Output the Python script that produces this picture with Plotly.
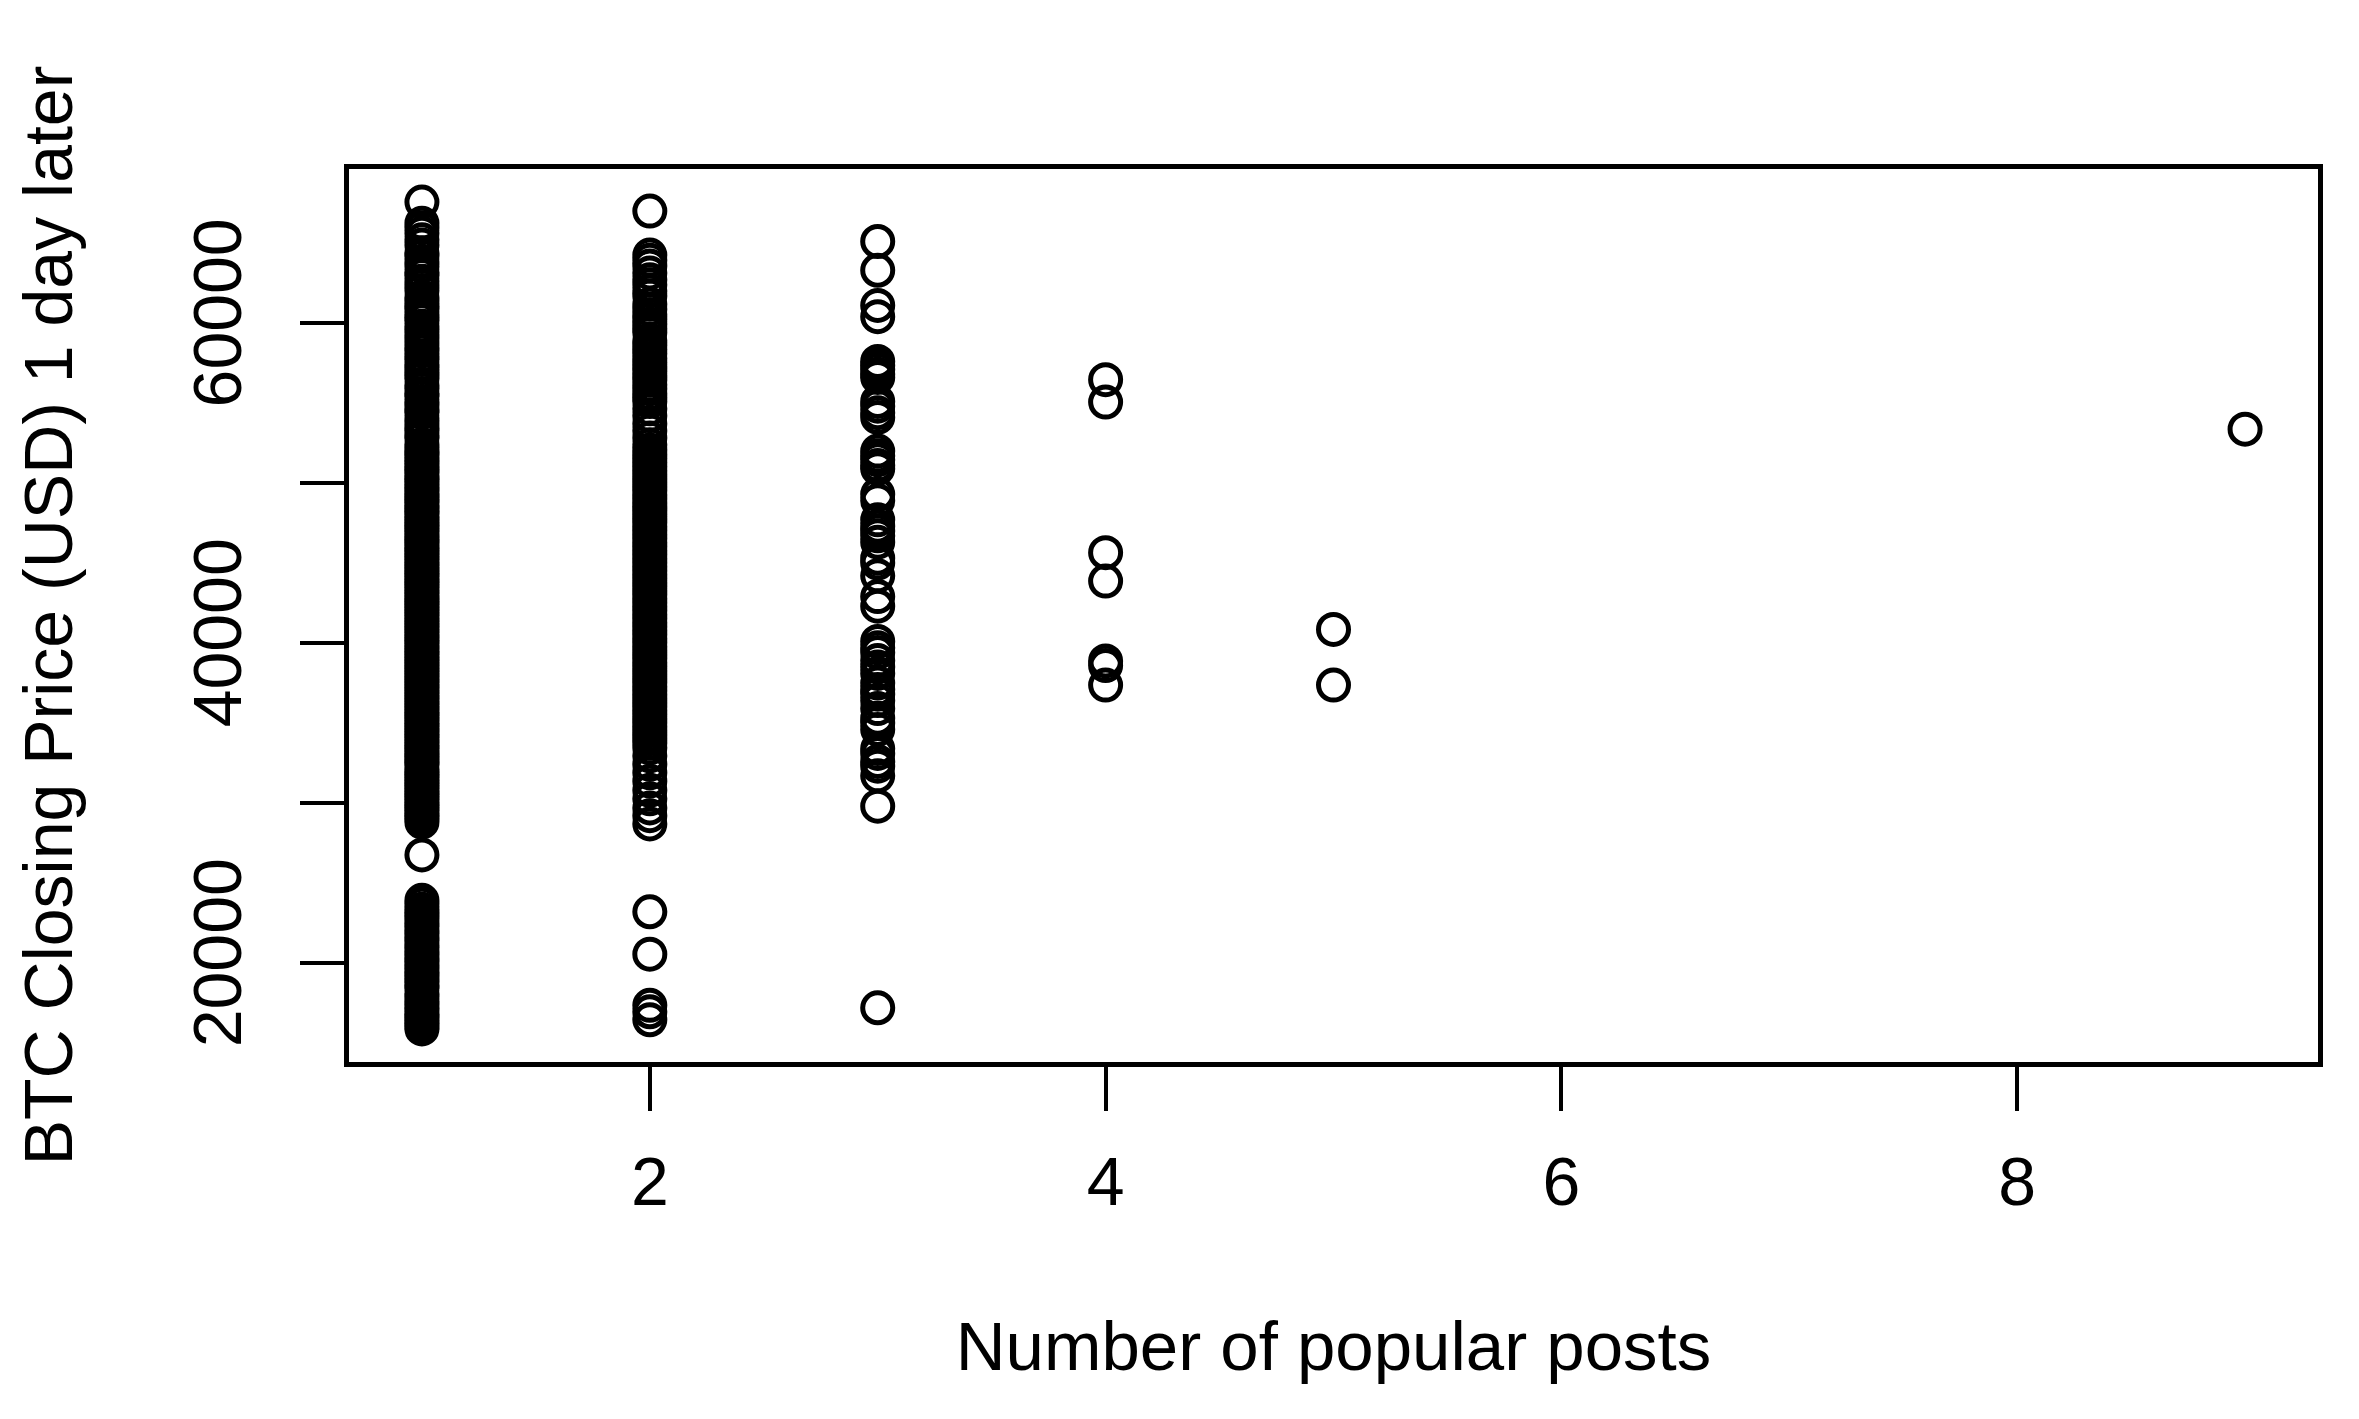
import plotly.graph_objects as go

# Number of popular posts (x) and BTC close one day later (y)
posts_1_price = [
    67560, 66240, 65950, 65610, 65200, 64880, 64390, 64170, 63820, 63540, 63160, 62980,
    62610, 62330, 62040, 61590, 61350, 61060, 60870, 60540, 60330, 60140, 59800, 59580,
    59290, 59030, 58760, 58470, 58240, 57930, 57720, 57400, 57210, 56940, 56730, 56520,
    56110, 55900, 55580, 55430, 55060, 54850, 54570, 54420, 54040, 53740, 53460, 53250,
    52970, 52830, 52410, 52200, 51930, 51800, 51570, 51390, 51190, 51010, 50800, 50660,
    50390, 50270, 50060, 49890, 49670, 49540, 49280, 49170, 48940, 48800, 48570, 48430,
    48200, 48080, 47870, 47700, 47490, 47350, 47160, 47010, 46790, 46640, 46420, 46310,
    46090, 45940, 45740, 45600, 45370, 45230, 45020, 44890, 44670, 44540, 44310, 44180,
    43960, 43830, 43620, 43480, 43270, 43140, 42910, 42780, 42560, 42430, 42230, 42090,
    41870, 41730, 41520, 41380, 41170, 41040, 40830, 40690, 40470, 40340, 40140, 40000,
    39780, 39650, 39440, 39300, 39090, 38960, 38740, 38610, 38400, 38270, 38050, 37920,
    37710, 37580, 37360, 37230, 37020, 36890, 36670, 36540, 36330, 36200, 35980, 35850,
    35630, 35500, 35290, 35160, 34950, 34810, 34600, 34470, 34260, 34120, 33910, 33780,
    33570, 33430, 33220, 33090, 32870, 32740, 32530, 32400, 32110, 31960, 31750, 31610,
    31400, 31270, 31060, 30920, 30710, 30580, 30370, 30230, 30020, 29890, 29680, 29540,
    29330, 29200, 29030, 28800,
    26750,
    23920, 23670, 23360, 23150, 22930, 22720, 22460, 22280, 22010, 21830, 21570, 21390,
    21130, 20950, 20700, 20520, 20270, 20100, 19850, 19670, 19410, 19240, 18990, 18820,
    18570, 18430, 18090, 17870, 17600, 17420, 17170, 16990, 16760, 16610, 16390, 16250,
    16030, 15880,
]

posts_2_price = [
    67000,
    64250, 63920, 63570, 63130, 62710, 62390, 62010, 61690, 61170, 60860, 60520, 60240,
    59930, 59650, 59410, 58890, 58620, 58340, 58090, 57780, 57530, 57250, 56990, 56690,
    56440, 56140, 55890, 55590, 55350, 55100, 54640, 54210, 53710, 53270, 52810, 52390,
    52060, 51790, 51540, 51280, 51030, 50770, 50520, 50250, 50020, 49750, 49530, 49260,
    49020, 48760, 48530, 48270, 48030, 47770, 47540, 47260, 47030, 46770, 46530, 46260,
    46030, 45770, 45530, 45270, 45020, 44760, 44520, 44260, 44030, 43750, 43530, 43250,
    43030, 42760, 42520, 42260, 42030, 41760, 41530, 41260, 41020, 40760, 40530, 40260,
    40030, 39760, 39520, 39250, 39030, 38760, 38530, 38250, 38020, 37750, 37530, 37260,
    37020, 36760, 36520, 36250, 36020, 35760, 35530, 35250, 35020, 34760, 34520, 34250,
    34020, 33750, 33450, 32940, 32410, 31890, 31360, 30790, 30260, 29690, 29210, 28690,
    23200, 20550, 17350, 16950, 16450,
]

posts_3_price = [
    65100, 63300, 61100, 60400, 57600, 57350, 57100, 56800, 56600, 55100, 54800, 54400,
    54100, 52000, 51700, 51450, 51100, 50900, 49300, 48900, 47700, 47300, 47000, 46700,
    46300, 45300, 45000, 44200, 42900, 42300, 40100, 39700, 39400, 38900, 38500, 38100,
    37500, 37100, 36800, 36400, 35900, 35300, 35000, 34600, 33400, 33100, 32600, 32300,
    31700, 29800, 17200,
]

posts_4_price = [56460, 55060, 45650, 43870, 38880, 38590, 37370]
posts_5_price = [40850, 37370]
posts_9_price = [53370]

x_ticks = [2, 4, 6, 8]
y_ticks = [20000, 30000, 40000, 50000, 60000]
# R drops the labels that would overlap, so only every other one shows
y_tick_labels = ["20000", "", "40000", "", "60000"]

groups = [
    (1, posts_1_price),
    (2, posts_2_price),
    (3, posts_3_price),
    (4, posts_4_price),
    (5, posts_5_price),
    (9, posts_9_price),
]
xs = []
ys = []
for n, prices in groups:
    xs.extend([n] * len(prices))
    ys.extend(prices)

fig = go.Figure(go.Scatter(
    x=xs, y=ys,
    mode="markers",
    marker=dict(symbol="circle-open", size=30, color="black", line=dict(width=5)),
    showlegend=False,
))

font_family = "Liberation Sans, Arial, sans-serif"

fig.update_layout(
    width=2359, height=1419,
    margin=dict(l=341, r=49, t=161, b=365),
    paper_bgcolor="white",
    plot_bgcolor="white",
    font=dict(family=font_family, color="black", size=68),
)

fig.update_xaxes(
    range=[0.68, 9.32],
    tickmode="array", tickvals=x_ticks,
    ticks="outside", ticklen=44, tickwidth=4, tickcolor="black",
    ticklabelstandoff=12,
    tickfont=dict(size=68),
    showline=True, linewidth=5, linecolor="black", mirror=True,
    showgrid=False, zeroline=False,
    title=dict(text="Number of popular posts", font=dict(size=69), standoff=106),
)
fig.update_yaxes(
    range=[13810, 69630],
    tickmode="array", tickvals=y_ticks, ticktext=y_tick_labels,
    tickangle=-90,
    ticks="outside", ticklen=44, tickwidth=4, tickcolor="black",
    ticklabelstandoff=32,
    tickfont=dict(size=68),
    showline=True, linewidth=5, linecolor="black", mirror=True,
    showgrid=False, zeroline=False,
    title=dict(text="BTC Closing Price (USD) 1 day later", font=dict(size=68), standoff=85),
)

fig.write_html("out.html")
